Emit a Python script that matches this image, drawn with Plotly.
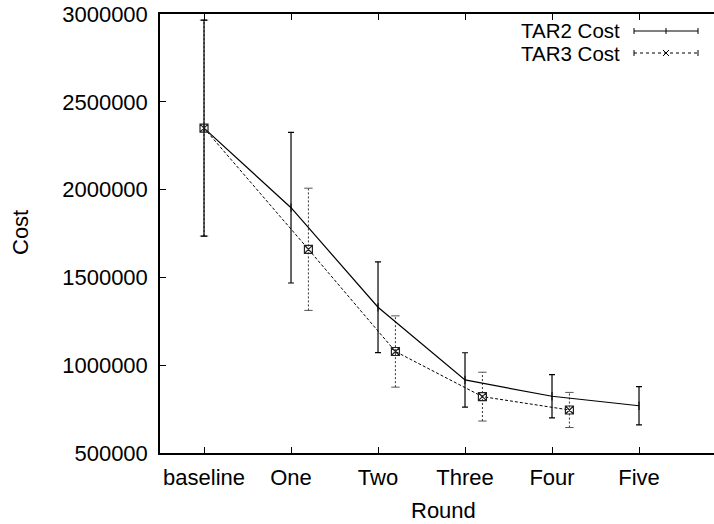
import plotly.graph_objects as go

rounds = ["baseline", "One", "Two", "Three", "Four", "Five"]
tar2_x = [0, 1, 2, 3, 4, 5]
tar2_cost = [2350000, 1897000, 1330000, 916000, 823000, 769000]
tar2_err = [615000, 429000, 258000, 155000, 123000, 109000]

tar3_x = [0, 1.2, 2.2, 3.2, 4.2]
tar3_cost = [2350000, 1660000, 1078000, 821000, 745000]
tar3_err = [615000, 348000, 203000, 139000, 100000]

y_ticks = [500000, 1000000, 1500000, 2000000, 2500000, 3000000]

FONT = "Liberation Sans, Arial, Helvetica, sans-serif"
FS = 22
W, H = 714, 524
L, R, T, B = 160, 0, 14, 71
PW, PH = W - L - R, H - T - B

fig = go.Figure()

# TAR3 error bars (dotted) built from data
ex, ey = [], []
for x, y, e in zip(tar3_x, tar3_cost, tar3_err):
    ex += [x, x, None]
    ey += [y - e, y + e, None]
fig.add_trace(go.Scatter(x=ex, y=ey, mode="lines",
                         line=dict(color="#333", width=1, dash="2px,2px"),
                         hoverinfo="skip", showlegend=False))
capx, capy = [], []
for x, y, e in zip(tar3_x, tar3_cost, tar3_err):
    capx += [x, x]
    capy += [y - e, y + e]
fig.add_trace(go.Scatter(x=capx, y=capy, mode="markers",
                         marker=dict(symbol="line-ew-open", size=6, color="#555",
                                     line=dict(color="#555", width=1)),
                         hoverinfo="skip", showlegend=False))

# TAR2 line with error bars
fig.add_trace(go.Scatter(
    x=tar2_x, y=tar2_cost, mode="lines+markers", name="TAR2 Cost",
    line=dict(color="black", width=1.2),
    marker=dict(symbol="line-ns-open", size=6, color="black",
                line=dict(color="black", width=1)),
    error_y=dict(type="data", array=tar2_err, visible=True, color="black",
                 thickness=1.2, width=3),
    showlegend=False))

# TAR3 dashed line
fig.add_trace(go.Scatter(
    x=tar3_x, y=tar3_cost, mode="lines+markers", name="TAR3 Cost",
    line=dict(color="black", width=1, dash="3px,2px"),
    marker=dict(symbol="square-x-open", size=8, color="#222",
                line=dict(color="#222", width=1.2)),
    showlegend=False))


def px(xp):
    return (xp - L) / PW


def py(yp):
    return (H - B - yp) / PH


shapes = []
annotations = []
# manual gnuplot-style key
leg_rows = [("TAR2 Cost", 31, "solid"), ("TAR3 Cost", 53, "dot")]
for label, yc, dash in leg_rows:
    annotations.append(dict(text=label, xref="paper", yref="paper",
                            x=px(621), y=py(yc), xanchor="right", yanchor="middle",
                            borderpad=0,
                            showarrow=False, font=dict(family=FONT, size=20.5, color="black")))
    lw = dict(color="black", width=1, dash=dash)
    shapes.append(dict(type="line", xref="paper", yref="paper",
                       x0=px(634), x1=px(698), y0=py(yc), y1=py(yc), line=lw))
    for xe in (634, 698):
        shapes.append(dict(type="line", xref="paper", yref="paper",
                           x0=px(xe), x1=px(xe), y0=py(yc - 3), y1=py(yc + 3),
                           line=dict(color="black", width=1)))
    if dash == "solid":
        shapes.append(dict(type="line", xref="paper", yref="paper",
                           x0=px(666), x1=px(666), y0=py(yc - 3), y1=py(yc + 3),
                           line=dict(color="black", width=1)))
    else:
        shapes.append(dict(type="line", xref="paper", yref="paper",
                           x0=px(663), x1=px(669), y0=py(yc - 3), y1=py(yc + 3),
                           line=dict(color="black", width=1)))
        shapes.append(dict(type="line", xref="paper", yref="paper",
                           x0=px(663), x1=px(669), y0=py(yc + 3), y1=py(yc - 3),
                           line=dict(color="black", width=1)))

annotations.append(dict(text="Cost", xref="paper", yref="paper", x=px(21), y=py(233),
                        textangle=-90, showarrow=False, xanchor="center", yanchor="middle",
                        font=dict(family=FONT, size=FS, color="black")))
annotations.append(dict(text="Round", xref="paper", yref="paper", x=px(443), y=py(510),
                        showarrow=False, xanchor="center", yanchor="middle",
                        font=dict(family=FONT, size=FS, color="black")))

fig.update_layout(
    width=W, height=H,
    margin=dict(l=L, r=R, t=T, b=B, autoexpand=False),
    paper_bgcolor="white", plot_bgcolor="white",
    font=dict(family=FONT, size=FS, color="black"),
    shapes=shapes, annotations=annotations,
    showlegend=False,
)
fig.update_xaxes(
    range=[-0.506, 5.862], tickmode="array", tickvals=tar2_x, ticktext=rounds,
    showgrid=False, zeroline=False, showline=True, linecolor="black", linewidth=1.5,
    mirror="ticks", ticks="inside", ticklen=6, tickcolor="black", tickwidth=1,
    ticklabelstandoff=4,
)
fig.update_yaxes(
    range=[500000, 3000000], tickmode="array", tickvals=y_ticks,
    ticktext=[str(v) for v in y_ticks],
    showgrid=False, zeroline=False, showline=True, linecolor="black", linewidth=1.5,
    mirror=False, ticks="inside", ticklen=6, tickcolor="black", tickwidth=1,
    ticklabelstandoff=6,
)

fig.write_html("out.html")
